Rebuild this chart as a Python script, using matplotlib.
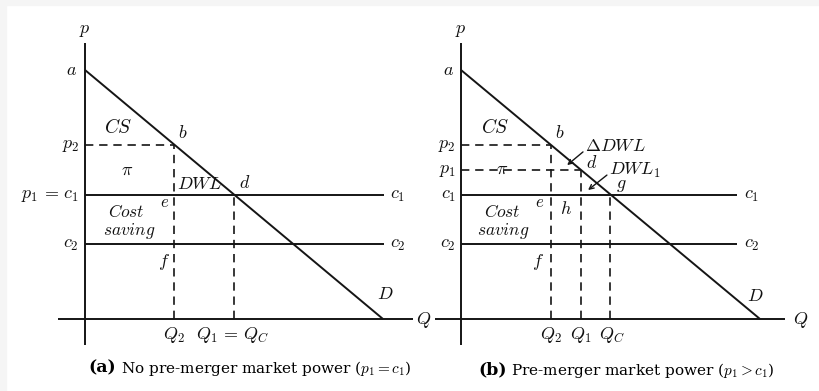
import matplotlib
matplotlib.use("Agg")
import matplotlib.pyplot as plt
from matplotlib.patches import Rectangle

plt.rcParams['mathtext.fontset'] = 'cm'
plt.rcParams['font.family'] = 'DejaVu Serif'

# ==========================================
# model values (price and quantity units)
# ==========================================
a_int = 10      # demand intercept on p axis
q_int = 10      # demand intercept on Q axis
p2 = 7          # post-merger price
p1_b = 6        # pre-merger price in panel (b)
c1 = 5
c2 = 3
Q2 = 3
Q1 = 4
Qc = 5

demand_q = [0, q_int]
demand_p = [a_int, 0]

W, H = 820, 391
fig = plt.figure(figsize=(W / 100, H / 100), dpi=100)
fig.patches.append(Rectangle((0, 1 - 5 / H), 1, 5 / H, transform=fig.transFigure,
                             color='#f5f5f5', zorder=0))
fig.patches.append(Rectangle((0, 0), 6 / W, 1, transform=fig.transFigure,
                             color='#f5f5f5', zorder=0))

LW = 1.4
DASH = dict(color='#151515', lw=1.2, ls=(0, (5, 3.5)))
SOLID = dict(color='#151515', lw=LW, solid_capstyle='butt')
FS = 13


def lab(ax, x, y, s, ha='center', fs=FS):
    ax.text(x, y, s, ha=ha, va='center', fontsize=fs, color='#111')


# ---------- panel (a) ----------
axA = fig.add_axes([6 / W, 0, (420 - 6) / W, 1 - 5 / H])
axA.set_xlim((6 - 85) / 29.8, (420 - 85) / 29.8)
axA.set_ylim((319 - 391) / 24.9, (319 - 5) / 24.9)
axA.axis('off')

axA.plot([0, 0], [-1.04, 11.08], **SOLID)
axA.plot([-0.9, 11.0], [0, 0], **SOLID)
axA.plot(demand_q, demand_p, **SOLID)
axA.plot([0, 10.05], [c1, c1], **SOLID)
axA.plot([0, 10.05], [c2, c2], **SOLID)
axA.plot([0, Q2], [p2, p2], **DASH)
axA.plot([Q2, Q2], [0, p2], **DASH)
axA.plot([Qc, Qc], [0, c1], **DASH)

lab(axA, 0, 11.6, r'$p$')
lab(axA, -0.44, 10, r'$a$')
lab(axA, 1.11, 7.71, r'$CS$', fs=14)
lab(axA, 3.29, 7.47, r'$b$')
lab(axA, -0.2, p2, r'$p_2$', ha='right')
lab(axA, 1.41, 5.98, r'$\pi$')
lab(axA, 3.08, 5.42, r'$DWL$', ha='left')
lab(axA, 5.37, 5.46, r'$d$')
lab(axA, -0.2, c1, r'$p_1\,=\,c_1$', ha='right')
lab(axA, 10.25, c1, r'$c_1$', ha='left')
lab(axA, 2.68, 4.66, r'$e$', fs=12)
lab(axA, 1.38, 4.28, r'$Cost$', fs=12.5)
lab(axA, 1.48, 3.55, r'$saving$', fs=12.5)
lab(axA, -0.2, c2, r'$c_2$', ha='right')
lab(axA, 10.25, c2, r'$c_2$', ha='left')
lab(axA, 2.65, 2.29, r'$f$')
lab(axA, 10.07, 1.0, r'$D$')
lab(axA, 11.12, -0.04, r'$Q$', ha='left')
lab(axA, Q2, -0.64, r'$Q_2$')
lab(axA, Qc - 0.05, -0.64, r'$Q_1\,=\,Q_C$')

# ---------- panel (b) ----------
axB = fig.add_axes([420 / W, 0, 400 / W, 1 - 5 / H])
axB.set_xlim((420 - 461) / 29.9, (820 - 461) / 29.9)
axB.set_ylim((319 - 391) / 24.9, (319 - 5) / 24.9)
axB.axis('off')

axB.plot([0, 0], [-1.04, 11.08], **SOLID)
axB.plot([-0.87, 10.84], [0, 0], **SOLID)
axB.plot(demand_q, demand_p, **SOLID)
axB.plot([0, 9.22], [c1, c1], **SOLID)
axB.plot([0, 9.22], [c2, c2], **SOLID)
axB.plot([0, Q2], [p2, p2], **DASH)
axB.plot([0, Q1], [p1_b, p1_b], **DASH)
axB.plot([Q2, Q2], [0, p2], **DASH)
axB.plot([Q1, Q1], [0, p1_b], **DASH)
axB.plot([Qc, Qc], [0, c1], **DASH)

lab(axB, 0, 11.6, r'$p$')
lab(axB, -0.43, 10, r'$a$')
lab(axB, 1.14, 7.71, r'$CS$', fs=14)
lab(axB, 3.31, 7.47, r'$b$')
lab(axB, -0.17, p2, r'$p_2$', ha='right')
lab(axB, -0.17, p1_b, r'$p_1$', ha='right')
lab(axB, 1.37, 6.02, r'$\pi$')
lab(axB, 4.15, 6.95, r'$\Delta DWL$', ha='left')
lab(axB, 4.37, 6.28, r'$d$')
lab(axB, 4.95, 5.97, r'$DWL_1$', ha='left')
lab(axB, 5.35, 5.38, r'$g$')
lab(axB, -0.17, c1, r'$c_1$', ha='right')
lab(axB, 9.45, c1, r'$c_1$', ha='left')
lab(axB, 2.64, 4.66, r'$e$', fs=12)
lab(axB, 3.51, 4.42, r'$h$')
lab(axB, 1.37, 4.28, r'$Cost$', fs=12.5)
lab(axB, 1.40, 3.55, r'$saving$', fs=12.5)
lab(axB, -0.17, c2, r'$c_2$', ha='right')
lab(axB, 9.45, c2, r'$c_2$', ha='left')
lab(axB, 2.58, 2.29, r'$f$')
lab(axB, 9.83, 0.92, r'$D$')
lab(axB, 11.1, -0.04, r'$Q$', ha='left')
lab(axB, Q2, -0.64, r'$Q_2$')
lab(axB, Q1, -0.64, r'$Q_1$')
lab(axB, Qc + 0.05, -0.64, r'$Q_C$')

arrow = dict(arrowstyle='->', color='#151515', lw=1.0, shrinkA=0, shrinkB=0,
             mutation_scale=8)
axB.annotate('', xy=(3.55, 6.18), xytext=(4.08, 6.71), arrowprops=arrow)
axB.annotate('', xy=(4.25, 5.18), xytext=(4.88, 5.78), arrowprops=arrow)

# ---------- captions ----------
renderer = fig.canvas.get_renderer()


def caption(x_left, y, tag, rest):
    t = fig.text(x_left / W, 1 - y / H, tag, ha='left', va='center',
                 fontsize=12.5, fontweight='bold')
    bb = t.get_window_extent(renderer)
    fig.text((bb.x1 + 5) / W, 1 - y / H, rest, ha='left', va='center', fontsize=11)


caption(88, 368, '(a)', r'No pre-merger market power ($p_1 = c_1$)')
caption(478, 370, '(b)', r'Pre-merger market power ($p_1 > c_1$)')

fig.savefig('out.png', dpi=100, facecolor='white')
